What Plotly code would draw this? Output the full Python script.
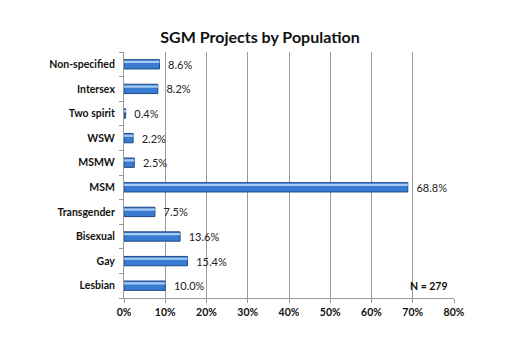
import plotly.graph_objects as go

# Share of SGM projects by population (%), bottom to top
populations = ["Lesbian", "Gay", "Bisexual", "Transgender", "MSM",
               "MSMW", "WSW", "Two spirit", "Intersex", "Non-specified"]
shares = [10.0, 15.4, 13.6, 7.5, 68.8, 2.5, 2.2, 0.4, 8.2, 8.6]
x_ticks = [0, 10, 20, 30, 40, 50, 60, 70, 80]
x_tick_labels = [f"{t}%" for t in x_ticks]
sample_note = "N = 279"

FONT = "Lato, 'Open Sans', sans-serif"

fig = go.Figure()

# main cylinder body
fig.add_trace(go.Bar(
    y=populations, x=shares, orientation="h",
    width=0.38,
    marker=dict(color="#3a7bd2", line=dict(color="#1d4a86", width=1)),
    text=[f"  {v:.1f}%" for v in shares],
    textposition="outside", cliponaxis=False, constraintext="none",
    textfont=dict(family=FONT, size=11, color="#222"),
    hoverinfo="skip",
))
# highlight band along the top of each bar
fig.add_trace(go.Bar(
    y=populations, x=shares, orientation="h",
    width=0.09, offset=0.05,
    marker=dict(color="#a6ccf4", line=dict(width=0)),
    hoverinfo="skip",
))

fig.update_layout(
    width=520, height=346,
    margin=dict(l=124, r=66, t=52, b=48),
    paper_bgcolor="white", plot_bgcolor="white",
    barmode="overlay", showlegend=False,
    uniformtext=dict(minsize=11, mode="show"),
    title=dict(text="<b>SGM Projects by Population</b>", x=0.5, xanchor="center",
               y=0.893, yanchor="middle",
               font=dict(family=FONT, size=16, color="#111")),
    xaxis=dict(
        range=[0, 80], tickmode="array", tickvals=x_ticks, ticktext=x_tick_labels,
        showgrid=True, gridcolor="#9a9a9a", gridwidth=1,
        showline=True, linecolor="#9a9a9a", linewidth=1,
        ticks="outside", ticklen=4, tickcolor="#9a9a9a",
        tickfont=dict(family=FONT, size=10.5, color="#111", weight="bold"),
        zeroline=False, fixedrange=True,
    ),
    yaxis=dict(
        categoryorder="array", categoryarray=populations,
        showline=True, linecolor="#9a9a9a", linewidth=1,
        ticks="outside", ticklen=4, tickcolor="#9a9a9a",
        tickson="boundaries", ticklabelstandoff=6,
        tickfont=dict(family=FONT, size=10.5, color="#111", weight="bold"),
        showgrid=False, fixedrange=True,
    ),
    annotations=[dict(
        text=f"<b>{sample_note}</b>", x=79, y="Lesbian",
        xref="x", yref="y", xanchor="right", yanchor="middle",
        showarrow=False, font=dict(family=FONT, size=10.5, color="#111"),
    )],
)

fig.write_html("out.html")
